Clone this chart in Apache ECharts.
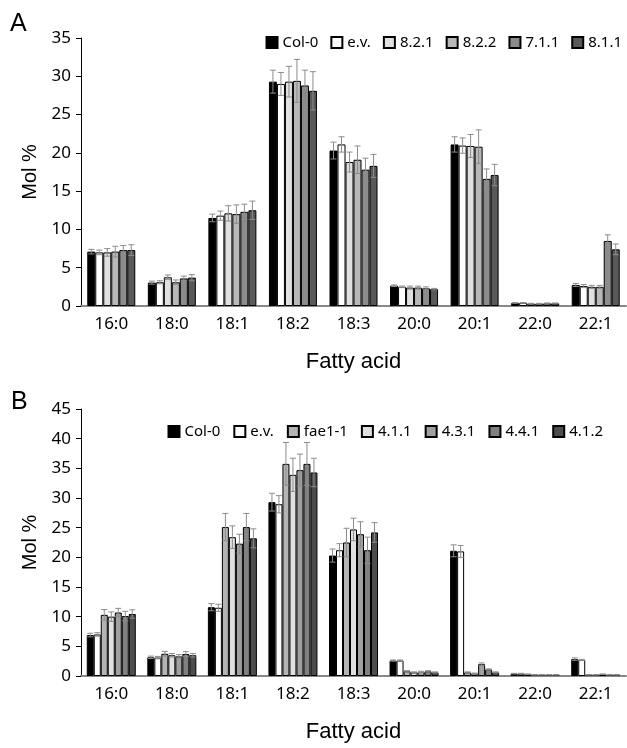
<!DOCTYPE html>
<html>
<head>
<meta charset="utf-8">
<script src="https://cdn.jsdelivr.net/npm/echarts@6/dist/echarts.min.js"></script>
<style>
html, body { margin: 0; padding: 0; background: #fff; }
#chart { width: 627px; height: 748px; }
</style>
</head>
<body>
<div id="chart"></div>
<script>
var chart = echarts.init(document.getElementById('chart'));

// 脂肪酸种类
var fattyAcids = ['16:0', '18:0', '18:1', '18:2', '18:3', '20:0', '20:1', '22:0', '22:1'];

// A 图
var namesA = ['Col-0', 'e.v.', '8.2.1', '8.2.2', '7.1.1', '8.1.1'];
var colorsA = ['#000000', '#ffffff', '#e0e0e0', '#b8b8b8', '#8c8c8c', '#595959'];
var valuesA = [
  [7.1, 3.05, 11.5, 29.3, 20.3, 2.65, 21.1, 0.4, 2.75],
  [7.0, 3.1, 11.8, 29.0, 21.1, 2.5, 20.95, 0.4, 2.6],
  [7.0, 3.75, 12.1, 29.3, 18.8, 2.4, 20.9, 0.3, 2.5],
  [7.1, 3.1, 12.0, 29.4, 19.1, 2.4, 20.8, 0.3, 2.5],
  [7.3, 3.6, 12.3, 28.8, 17.8, 2.3, 16.6, 0.35, 8.5],
  [7.3, 3.7, 12.5, 28.1, 18.3, 2.2, 17.1, 0.35, 7.4]
];
var errorsA = [
  [0.3, 0.2, 0.5, 1.5, 1.1, 0.1, 1.0, 0.05, 0.2],
  [0.3, 0.2, 0.6, 1.5, 1.0, 0.1, 1.0, 0.05, 0.2],
  [0.5, 0.3, 1.0, 2.0, 1.3, 0.2, 1.5, 0.05, 0.2],
  [0.7, 0.3, 1.2, 2.8, 1.8, 0.2, 2.2, 0.05, 0.2],
  [0.6, 0.3, 1.0, 2.0, 1.5, 0.2, 1.3, 0.05, 0.8],
  [0.7, 0.4, 1.2, 2.5, 1.5, 0.1, 1.4, 0.05, 0.7]
];

// B 图
var namesB = ['Col-0', 'e.v.', 'fae1-1', '4.1.1', '4.3.1', '4.4.1', '4.1.2'];
var colorsB = ['#000000', '#ffffff', '#b4b4b4', '#e0e0e0', '#a0a0a0', '#808080', '#4d4d4d'];
var valuesB = [
  [6.9, 3.15, 11.6, 29.3, 20.3, 2.6, 21.1, 0.4, 2.85],
  [7.0, 3.1, 11.5, 28.95, 21.2, 2.6, 21.0, 0.4, 2.7],
  [10.3, 3.75, 25.1, 35.75, 22.5, 0.8, 0.6, 0.3, 0.2],
  [10.0, 3.5, 23.4, 33.9, 24.7, 0.6, 0.4, 0.2, 0.2],
  [10.7, 3.3, 22.3, 34.7, 23.9, 0.7, 2.0, 0.2, 0.3],
  [10.1, 3.7, 25.1, 35.75, 21.2, 0.8, 1.1, 0.2, 0.2],
  [10.45, 3.5, 23.2, 34.3, 24.2, 0.6, 0.6, 0.2, 0.2]
];
var errorsB = [
  [0.3, 0.2, 0.6, 1.5, 1.1, 0.1, 1.0, 0.05, 0.2],
  [0.3, 0.2, 0.6, 1.45, 1.1, 0.1, 1.0, 0.05, 0.1],
  [0.9, 0.4, 2.3, 3.6, 2.4, 0.1, 0.1, 0.05, 0.05],
  [0.8, 0.3, 1.9, 2.8, 1.9, 0.1, 0.1, 0.05, 0.05],
  [0.7, 0.3, 1.6, 2.7, 2.1, 0.1, 0.2, 0.05, 0.05],
  [0.8, 0.4, 2.3, 3.6, 2.2, 0.1, 0.1, 0.05, 0.05],
  [0.7, 0.3, 1.6, 2.4, 1.65, 0.1, 0.1, 0.05, 0.05]
];

var font = 'Noto Sans';
var nameFont = 'Liberation Sans';

// 误差线（自定义系列）
function errorSeries(values, errs, idx, n, bw, gridIdx) {
  var data = values.map(function (v, i) { return [i, v, errs[i]]; });
  var off = (idx - (n - 1) / 2) * bw;
  return {
    type: 'custom',
    xAxisIndex: gridIdx,
    yAxisIndex: gridIdx,
    z: 5,
    silent: true,
    encode: { x: 0, y: 1 },
    data: data,
    renderItem: function (params, api) {
      var v = api.value(1), e = api.value(2);
      var top = api.coord([api.value(0), v + e]);
      var bot = api.coord([api.value(0), v - e]);
      var x = top[0] + off;
      var st = { stroke: '#8c8c8c', lineWidth: 1 };
      return {
        type: 'group',
        children: [
          { type: 'line', shape: { x1: x, y1: top[1], x2: x, y2: bot[1] }, style: st },
          { type: 'line', shape: { x1: x - 3, y1: top[1], x2: x + 3, y2: top[1] }, style: st },
          { type: 'line', shape: { x1: x - 3, y1: bot[1], x2: x + 3, y2: bot[1] }, style: st }
        ]
      };
    }
  };
}

var series = [];
namesA.forEach(function (nm, i) {
  series.push({
    name: nm, type: 'bar', xAxisIndex: 0, yAxisIndex: 0,
    barWidth: 8, barGap: 0,
    itemStyle: { color: colorsA[i], borderColor: '#000', borderWidth: 1 },
    data: valuesA[i]
  });
});
namesA.forEach(function (nm, i) {
  series.push(errorSeries(valuesA[i], errorsA[i], i, namesA.length, 8, 0));
});
namesB.forEach(function (nm, i) {
  series.push({
    name: nm, type: 'bar', xAxisIndex: 1, yAxisIndex: 1,
    barWidth: 7, barGap: 0,
    itemStyle: { color: colorsB[i], borderColor: '#000', borderWidth: 1 },
    data: valuesB[i]
  });
});
namesB.forEach(function (nm, i) {
  series.push(errorSeries(valuesB[i], errorsB[i], i, namesB.length, 7, 1));
});

function xAxisOf(gi) {
  return {
    type: 'category', gridIndex: gi, data: fattyAcids,
    name: 'Fatty acid', nameLocation: 'middle', nameGap: 45,
    nameTextStyle: { fontFamily: nameFont, fontSize: 22, color: '#000' },
    axisLine: { lineStyle: { color: '#888', width: 2 } },
    axisTick: { show: false },
    axisLabel: { fontFamily: font, fontSize: 17, color: '#000', margin: 10 }
  };
}
function yAxisOf(gi, max) {
  return {
    type: 'value', gridIndex: gi, min: 0, max: max, interval: 5,
    name: 'Mol %', nameLocation: 'middle', nameGap: 41,
    nameTextStyle: { fontFamily: nameFont, fontSize: 20, color: '#000' },
    axisLine: { show: true, lineStyle: { color: '#000', width: 1 } },
    axisTick: { show: true, length: 5, lineStyle: { color: '#000' } },
    splitLine: { show: false },
    axisLabel: { fontFamily: font, fontSize: 17, color: '#000', margin: 10 }
  };
}

var option = {
  animation: false,
  backgroundColor: '#fff',
  title: [
    { text: 'A', left: 10, top: 12, padding: 0, textStyle: { fontFamily: nameFont, fontSize: 25, fontWeight: 'normal', color: '#000' } },
    { text: 'B', left: 11, top: 390, padding: 0, textStyle: { fontFamily: nameFont, fontSize: 25, fontWeight: 'normal', color: '#000' } }
  ],
  legend: [
    {
      data: namesA, right: 5, top: 35, itemWidth: 11, itemHeight: 11, itemGap: 12, icon: 'rect',
      textStyle: { fontFamily: font, fontSize: 15, color: '#000' }, padding: 0
    },
    {
      data: namesB, right: 24, top: 424, itemWidth: 11, itemHeight: 11, itemGap: 13, icon: 'rect',
      textStyle: { fontFamily: font, fontSize: 15, color: '#000' }, padding: 0
    }
  ],
  grid: [
    { left: 81, top: 38, width: 545, height: 268 },
    { left: 81, top: 409, width: 545, height: 267 }
  ],
  xAxis: [xAxisOf(0), xAxisOf(1)],
  yAxis: [yAxisOf(0, 35), yAxisOf(1, 45)],
  series: series
};

chart.setOption(option);
</script>
</body>
</html>
